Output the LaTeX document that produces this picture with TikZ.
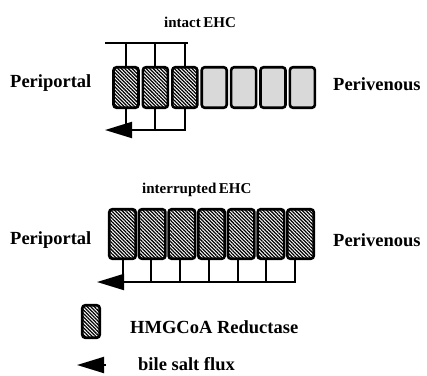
\documentclass[tikz,border=0pt]{standalone}
\usepackage{fontspec}
\setmainfont{Liberation Serif}
\usetikzlibrary{patterns.meta,arrows.meta}
\begin{document}
\begin{tikzpicture}[x=1pt,y=-1pt,
  cellbase/.style={draw=black, line width=2.6pt, rounded corners=3pt, inner sep=0pt},
  hatched/.style={cellbase, pattern={Lines[angle=-45,distance=2.5pt,line width=1.25pt]}},
  dotted cell/.style={cellbase, fill=black!15},
  toprow/.style={minimum width=25pt, minimum height=40.5pt},
  botrow/.style={minimum width=26.5pt, minimum height=49.5pt},
  conn/.style={line width=2pt},
  flux/.style={conn, -{Triangle[length=27pt,width=16pt]}},
  bigtxt/.style={font=\bfseries\fontsize{18.5}{20}\selectfont, inner sep=0pt},
  titletxt/.style={font=\bfseries\fontsize{15}{17}\selectfont, inner sep=0pt}
]
\useasboundingbox (0,0) rectangle (427,375);

% ---- intact EHC ----
\node[titletxt, anchor=base west] (t1) at (164,27) {intact\,EHC};
\node[bigtxt, anchor=base west] (pp1) at (10,87) {Periportal};
\node[bigtxt, anchor=base west] (pv1) at (333,90) {Perivenous};
\foreach \i in {1,2,3} {
  \node[hatched, toprow] (c\i) at ({126+(\i-1)*29.4},87.5) {};
}
\foreach \i in {4,5,6,7} {
  \node[dotted cell, toprow] (c\i) at ({126+(\i-1)*29.4},87.5) {};
}
\coordinate (tl) at (105,43);
\coordinate (tr) at (188,43);
\draw[conn] (tl) -- (tr);
\coordinate (bl) at (105,130);
\foreach \i in {1,2,3} {
  \draw[conn] (c\i.north |- tl) -- (c\i.north);
  \draw[conn] (c\i.south) -- (c\i.south |- bl);
}
\draw[flux] ([xshift=1pt]c3.south |- bl) -- (bl);

% ---- interrupted EHC ----
\node[titletxt, anchor=base west] (t2) at (142,193) {interrupted\,EHC};
\node[bigtxt, anchor=base west] (pp2) at (10,244) {Periportal};
\node[bigtxt, anchor=base west] (pv2) at (333,246.5) {Perivenous};
\foreach \i in {1,...,7} {
  \node[hatched, botrow] (d\i) at ({122.5+(\i-1)*29.67},234) {};
}
\coordinate (bl2) at (97,282);
\foreach \i in {1,...,7} {
  \draw[conn] ([xshift={-(\i-1)*0.9pt}]d\i.south) -- ([xshift={-(\i-1)*0.9pt}]d\i.south |- bl2);
}
\draw[flux] ([xshift=-4.4pt]d7.south |- bl2) -- (bl2);

% ---- legend ----
\node[hatched, minimum width=17.5pt, minimum height=32.5pt] (lc) at (91,321.5) {};
\node[bigtxt, anchor=base west] (lt1) at (130,333) {HMGCoA Reductase};
\coordinate (la1) at (77,365);
\coordinate (la2) at (106,365);
\draw[flux] (la2) -- (la1);
\node[bigtxt, anchor=base west] (lt2) at (138,370) {bile salt flux};
\end{tikzpicture}
\end{document}
